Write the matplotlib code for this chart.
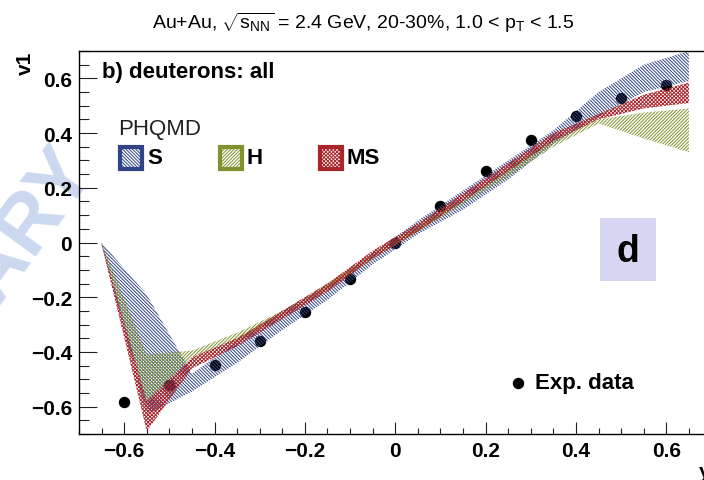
import matplotlib
matplotlib.use('Agg')
import matplotlib.pyplot as plt
from matplotlib.patches import Rectangle
from matplotlib.lines import Line2D
from matplotlib.ticker import MultipleLocator, FuncFormatter

plt.rcParams['font.family'] = ['Liberation Sans', 'DejaVu Sans']
plt.rcParams['mathtext.fontset'] = 'custom'
plt.rcParams['mathtext.rm'] = 'Liberation Sans'
plt.rcParams['mathtext.it'] = 'Liberation Sans'
plt.rcParams['mathtext.bf'] = 'Liberation Sans:bold'
plt.rcParams['hatch.linewidth'] = 0.7

# ---- data ----
data_y = [-0.6, -0.5, -0.4, -0.3, -0.2, -0.1, 0.0, 0.1, 0.2, 0.3, 0.4, 0.5, 0.6]
data_v1 = [-0.582, -0.52, -0.449, -0.36, -0.255, -0.133, 0.0, 0.134, 0.26, 0.374, 0.462, 0.528, 0.577]

band_y = [-0.65, -0.55, -0.45, -0.35, -0.25, -0.15, -0.05, 0.05, 0.15, 0.25, 0.35, 0.45, 0.55, 0.65]
s_lo = [-0.01, -0.63, -0.545, -0.44, -0.32, -0.21, -0.08, 0.03, 0.12, 0.23, 0.36, 0.46, 0.55, 0.59]
s_hi = [0.0, -0.19, -0.48, -0.36, -0.25, -0.16, -0.04, 0.08, 0.19, 0.30, 0.41, 0.55, 0.65, 0.70]
h_lo = [-0.005, -0.585, -0.42, -0.36, -0.27, -0.17, -0.06, 0.04, 0.14, 0.24, 0.35, 0.435, 0.38, 0.33]
h_hi = [0.0, -0.41, -0.395, -0.33, -0.25, -0.15, -0.04, 0.06, 0.16, 0.27, 0.38, 0.45, 0.475, 0.49]
ms_lo = [-0.005, -0.69, -0.46, -0.38, -0.28, -0.18, -0.06, 0.04, 0.15, 0.26, 0.37, 0.45, 0.49, 0.51]
ms_hi = [0.0, -0.58, -0.42, -0.35, -0.25, -0.15, -0.03, 0.07, 0.18, 0.29, 0.40, 0.47, 0.54, 0.585]

model_names = ['S', 'H', 'MS']
model_colors = ['#2f4386', '#7f922e', '#a8262c']
model_hatches = ['\\' * 10, '/' * 10, 'x' * 9]

W, H = 704, 481
fig = plt.figure(figsize=(W / 100, H / 100), dpi=100)

def fx(px):
    return px / W

def fy(py):
    return 1 - py / H

ax = fig.add_axes([fx(79), fy(435), (711.5 - 79) / W, (435 - 52) / H])
ax.set_facecolor('none')
ax.set_xlim(-0.7, 0.7)
ax.set_ylim(-0.7, 0.7)

# experimental data (drawn under the bands)
ax.plot(data_y, data_v1, 'o', color='black', markersize=7.2, zorder=1)

los = [s_lo, h_lo, ms_lo]
his = [s_hi, h_hi, ms_hi]
for i in range(3):
    ax.fill_between(band_y, los[i], his[i], facecolor='none', edgecolor=model_colors[i],
                    hatch=model_hatches[i], linewidth=0, zorder=2 + i)

# axes styling
ax.spines['right'].set_visible(False)
for s in ['left', 'bottom', 'top']:
    ax.spines[s].set_linewidth(1.0)
ax.xaxis.set_major_locator(MultipleLocator(0.2))
ax.xaxis.set_minor_locator(MultipleLocator(0.05))
ax.yaxis.set_major_locator(MultipleLocator(0.2))
ax.yaxis.set_minor_locator(MultipleLocator(0.05))

def fmt(v, pos):
    v = round(v, 3)
    if abs(v) < 1e-9:
        return '0'
    return ('%g' % v).replace('-', '\u2212')

ax.xaxis.set_major_formatter(FuncFormatter(fmt))
ax.yaxis.set_major_formatter(FuncFormatter(fmt))
ax.tick_params(which='both', direction='in', top=False, right=False, width=0.8, color='#222222')
ax.tick_params(axis='x', which='major', length=9, pad=5)
ax.tick_params(axis='x', which='minor', length=4.5)
ax.tick_params(axis='y', which='major', length=12.7, pad=5)
ax.tick_params(axis='y', which='minor', length=7.2)
for lab in ax.get_xticklabels() + ax.get_yticklabels():
    lab.set_fontsize(15)
    lab.set_fontweight('bold')

# axis titles
fig.text(fx(25), fy(52), 'v1', rotation=90, ha='center', va='top', fontsize=15, fontweight='bold')
fig.text(fx(699), fy(463), 'y', ha='left', va='top', fontsize=15, fontweight='bold')

# top title
fig.text(fx(363), fy(29), r'Au+Au, $\sqrt{s_{NN}}$ = 2.4 GeV, 20-30%, 1.0 < $p_{T}$ < 1.5',
         ha='center', va='baseline', fontsize=14)

# panel label
fig.text(fx(102), fy(78), 'b) deuterons: all', ha='left', va='baseline', fontsize=16, fontweight='bold')

# model legend
fig.text(fx(118), fy(135), 'PHQMD', ha='left', va='baseline', fontsize=16, color='#222222')
box_x = [118, 218, 318]
for i in range(3):
    r = Rectangle((fx(box_x[i] + 2), fy(170)), 22 / W, 22 / H, transform=fig.transFigure,
                  facecolor='white', edgecolor=model_colors[i], hatch=model_hatches[i],
                  linewidth=3, zorder=5)
    fig.add_artist(r)
    fig.text(fx(box_x[i] + 29), fy(158), model_names[i], ha='left', va='center',
             fontsize=16, fontweight='bold')

# exp data legend
fig.add_artist(Line2D([fx(518)], [fy(384)], marker='o', color='black', markersize=7.2,
                      transform=fig.transFigure))
fig.text(fx(535), fy(384), 'Exp. data', ha='left', va='center', fontsize=16, fontweight='bold')

# "d" box
fig.add_artist(Rectangle((fx(600), fy(282)), 56 / W, 63 / H, transform=fig.transFigure,
                         facecolor='#d6d6f3', edgecolor='none', zorder=1))
fig.text(fx(628), fy(252), 'd', ha='center', va='center', fontsize=27, fontweight='bold', zorder=2)

# watermark
fig.text(fx(95), fy(168), 'PRELIMINARY', rotation=54, rotation_mode='anchor', ha='right',
         va='baseline', fontsize=58, fontweight='bold', color='#ccd8f0', zorder=-5)

fig.savefig('out.png', dpi=100)
